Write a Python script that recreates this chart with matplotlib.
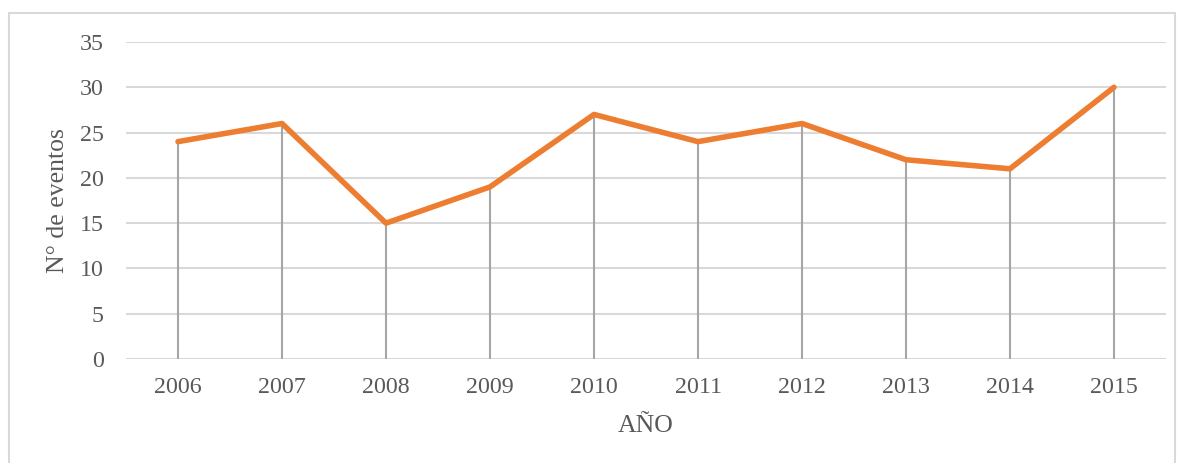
import matplotlib.pyplot as plt
from matplotlib.patches import Rectangle

# data
years = ['2006', '2007', '2008', '2009', '2010', '2011', '2012', '2013', '2014', '2015']
eventos = [24, 26, 15, 19, 27, 24, 26, 22, 21, 30]
yticks = [0, 5, 10, 15, 20, 25, 30, 35]

plt.rcParams['font.family'] = ['Liberation Serif', 'DejaVu Serif']

W, H = 1184, 463
fig = plt.figure(figsize=(W / 100, H / 100), dpi=100)
ax = fig.add_axes([126 / W, 1 - 359 / H, (1166 - 126) / W, (359 - 42) / H])

# outer chart border
fig.patches.append(Rectangle((9 / W, -0.05), (1175 - 9) / W, 1.05 - 13 / H,
                             transform=fig.transFigure, fill=False,
                             edgecolor='#d9d9d9', linewidth=1.5))

x = list(range(len(years)))
# drop lines
ax.vlines(x, 0, eventos, color='#a6a6a6', linewidth=1.5, zorder=2)
ax.plot(x, eventos, color='#ed7d31', linewidth=4, solid_capstyle='round',
        solid_joinstyle='round', zorder=3)

ax.set_xlim(-0.5, len(years) - 0.5)
ax.set_ylim(0, 35)
ax.set_yticks(yticks)
ax.set_xticks(x)
ax.set_xticklabels(years)
ax.grid(axis='y', color='#d9d9d9', linewidth=1.5, zorder=0)
ax.set_axisbelow(True)
for s in ax.spines.values():
    s.set_visible(False)
ax.tick_params(length=0, labelsize=17.3, colors='#595959')
ax.tick_params(axis='y', pad=16)
ax.tick_params(axis='x', pad=13)

ax.set_xlabel('AÑO', fontsize=18.5, color='#595959', labelpad=12)
ax.set_ylabel('N° de eventos', fontsize=18.5, color='#595959', labelpad=8)

fig.savefig('out.png', dpi=100)
